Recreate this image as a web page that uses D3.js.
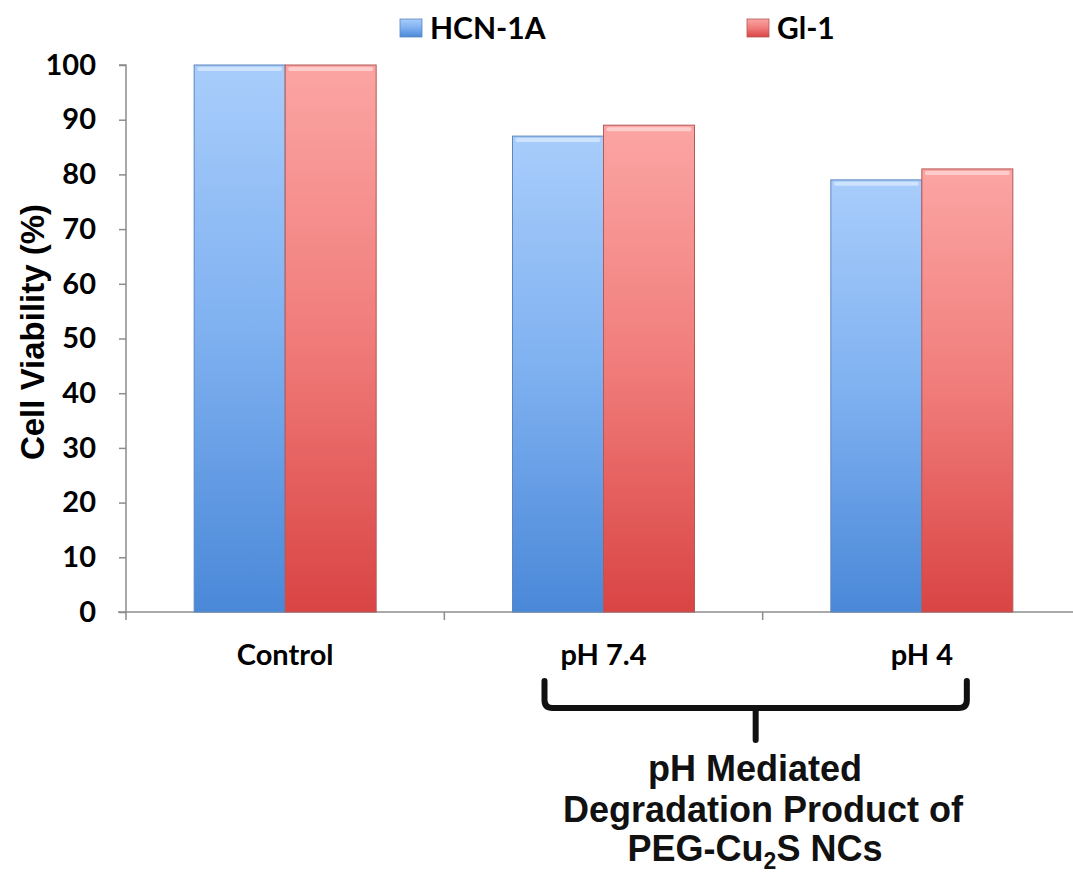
<!DOCTYPE html>
<html><head><meta charset="utf-8">
<script src="https://cdn.jsdelivr.net/npm/d3@7"></script>
<style>body{margin:0;background:#fff}svg{display:block}</style>
</head><body>
<script>
const categories = ["Control", "pH 7.4", "pH 4"];
const seriesNames = ["HCN-1A", "Gl-1"];
const hcn1a = [100, 87, 79];
const gl1 = [100, 89, 81];
const yTicks = [0, 10, 20, 30, 40, 50, 60, 70, 80, 90, 100];

const W = 1073, H = 873;
const svg = d3.select("body").append("svg").attr("width", W).attr("height", H);
const defs = svg.append("defs");
const grads = [
  {id: "gBlue", top: "#a8cdfb", mid: "#7eb0f0", bot: "#4a88d8", edge: "#5e86bd"},
  {id: "gRed", top: "#fba5a3", mid: "#f07c7a", bot: "#d94444", edge: "#b45858"}
];
grads.forEach(g => {
  const lg = defs.append("linearGradient").attr("id", g.id).attr("x1", 0).attr("y1", 0).attr("x2", 0).attr("y2", 1);
  lg.append("stop").attr("offset", "0%").attr("stop-color", g.top);
  lg.append("stop").attr("offset", "50%").attr("stop-color", g.mid);
  lg.append("stop").attr("offset", "100%").attr("stop-color", g.bot);
});

const x0 = 126, x1 = 1081, yTop = 65, yBot = 612;
const x = d3.scaleBand().domain(categories).range([x0, x1]).paddingInner(0).paddingOuter(0);
const y = d3.scaleLinear().domain([0, 100]).range([yBot, yTop]);
const groupW = 182;
const xs = d3.scaleBand().domain(seriesNames).range([0, groupW]);

const data = categories.map((c, i) => ({cat: c, vals: [hcn1a[i], gl1[i]]}));

// axes
const yAxis = d3.axisLeft(y).tickValues(yTicks).tickSize(7).tickPadding(23);
const gy = svg.append("g").attr("transform", `translate(${x0},0)`).call(yAxis);
gy.select(".domain").attr("stroke", "#8c8c8c").attr("stroke-width", 1.5).attr("d", `M-7,${yTop}H0V${yBot}`);
gy.selectAll(".tick line").attr("stroke", "#8c8c8c").attr("stroke-width", 1.5);
gy.selectAll(".tick text").attr("font-family", "Lato, sans-serif").attr("font-weight", "bold")
  .attr("font-size", 29).attr("fill", "#000");

// x axis line and band ticks
svg.append("line").attr("x1", 118).attr("x2", W).attr("y1", yBot).attr("y2", yBot)
  .attr("stroke", "#8c8c8c").attr("stroke-width", 1.5);
svg.selectAll(".xtick").data(categories).enter().append("line")
  .attr("x1", d => x(d)).attr("x2", d => x(d)).attr("y1", yBot).attr("y2", yBot + 8)
  .attr("stroke", "#8c8c8c").attr("stroke-width", 1.5);
svg.selectAll(".xlab").data(categories).enter().append("text")
  .attr("x", d => x(d) + x.bandwidth() / 2).attr("y", 665)
  .attr("text-anchor", "middle").attr("font-family", "Lato, sans-serif").attr("font-weight", "bold")
  .attr("font-size", 29).attr("fill", "#000").text(d => d);

// bars
const groups = svg.selectAll(".grp").data(data).enter().append("g")
  .attr("transform", d => `translate(${x(d.cat) + (x.bandwidth() - groupW) / 2},0)`);
groups.each(function(d) {
  const g = d3.select(this);
  d.vals.forEach((v, si) => {
    const bx = xs(seriesNames[si]), bw = xs.bandwidth(), by = y(v), bh = y(0) - y(v);
    g.append("rect").attr("x", bx).attr("y", by).attr("width", bw).attr("height", bh)
      .attr("fill", `url(#${grads[si].id})`).attr("stroke", grads[si].edge).attr("stroke-width", 1);
    g.append("rect").attr("x", bx + 3).attr("y", by + 2).attr("width", bw - 6).attr("height", 4)
      .attr("fill", "#fff").attr("opacity", 0.45).attr("rx", 2);
  });
});

// legend
const legend = [{name: seriesNames[0], x: 400}, {name: seriesNames[1], x: 747}];
legend.forEach((l, i) => {
  svg.append("rect").attr("x", l.x).attr("y", 19).attr("width", 22).attr("height", 18)
    .attr("fill", `url(#${grads[i].id})`).attr("stroke", grads[i].edge).attr("stroke-width", 0.8);
  svg.append("text").attr("x", l.x + 30).attr("y", 39).attr("font-family", "Lato, sans-serif")
    .attr("font-weight", "bold").attr("font-size", 30).attr("fill", "#000").text(l.name);
});

// y title
svg.append("text").attr("transform", "translate(44,332) rotate(-90)").attr("text-anchor", "middle")
  .attr("font-family", "Liberation Sans, Arial, sans-serif").attr("font-weight", "bold")
  .attr("font-size", 33).attr("fill", "#000").text("Cell Viability (%)");

// bracket
const bL = x(categories[1]) + x.bandwidth() / 2 - 59, bR = x(categories[2]) + x.bandwidth() / 2 + 45;
const bMid = (bL + bR) / 2, bTopY = 681, bY = 708, r = 8;
svg.append("path")
  .attr("d", `M${bL},${bTopY}V${bY - r}Q${bL},${bY} ${bL + r},${bY}H${bR - r}Q${bR},${bY} ${bR},${bY - r}V${bTopY}` +
    `M${bMid},${bY}V${740}`)
  .attr("fill", "none").attr("stroke", "#111").attr("stroke-width", 6).attr("stroke-linecap", "round");

// annotation
const ann = svg.append("text").attr("text-anchor", "middle").attr("font-family", "Liberation Sans, Arial, sans-serif")
  .attr("font-weight", "bold").attr("font-size", 36).attr("fill", "#111");
ann.append("tspan").attr("x", 755).attr("y", 781).text("pH Mediated");
ann.append("tspan").attr("x", 763).attr("y", 822).text("Degradation Product of");
const t3 = ann.append("tspan").attr("x", 755).attr("y", 861);
t3.text("PEG-Cu");
ann.append("tspan").attr("dy", 8).attr("font-size", 23).text("2");
ann.append("tspan").attr("dy", -8).text("S NCs");
</script>
</body></html>
